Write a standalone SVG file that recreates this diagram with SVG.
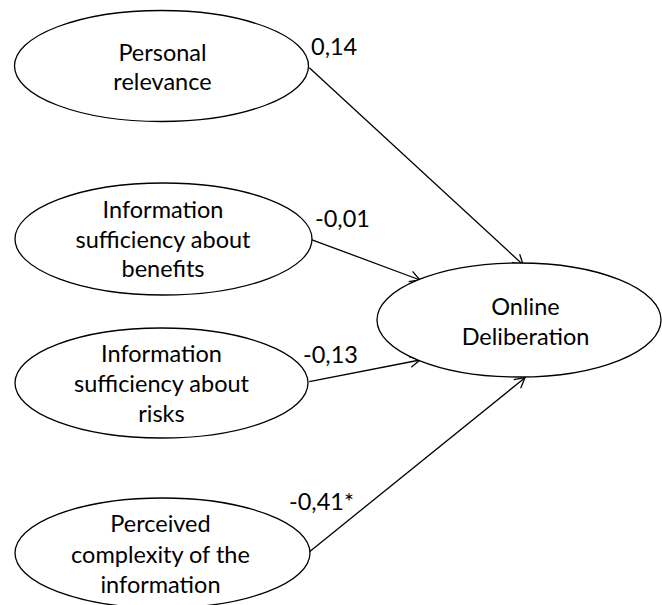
<svg xmlns="http://www.w3.org/2000/svg" width="662" height="605" viewBox="0 0 662 605">
<defs>
<style>
.node ellipse{fill:#fff;stroke:#000;stroke-width:1.3}
text{font-family:Lato,"Liberation Sans",sans-serif;font-size:23.5px;fill:#000}
.c{text-anchor:middle}
.conn line{stroke:#000;stroke-width:1.3;fill:none}
</style>
<marker id="arr" markerUnits="userSpaceOnUse" markerWidth="14" markerHeight="14" viewBox="0 0 14 14" refX="12" refY="7" orient="auto">
<path d="M2,1.5 L12,7 L2,12.5" fill="none" stroke="#000" stroke-width="1.3"/>
</marker>
</defs>
<rect width="662" height="605" fill="#fff"/>
<g id="connectors" class="conn">
<line x1="309.3" y1="67.7" x2="523.3" y2="265" marker-end="url(#arr)"/>
<line x1="310.7" y1="239.3" x2="420" y2="280" marker-end="url(#arr)"/>
<line x1="309.3" y1="381.7" x2="420" y2="360" marker-end="url(#arr)"/>
<line x1="308.3" y1="552.7" x2="525" y2="377.7" marker-end="url(#arr)"/>
<text x="311" y="55">0,14</text>
<text x="315" y="227">-0,01</text>
<text x="303" y="363">-0,13</text>
<text x="289" y="510">-0,41*</text>
</g>
<g id="personal-relevance" class="node">
<ellipse cx="161.5" cy="66" rx="147" ry="55.5"/>
<text class="c" x="162.5" y="61">Personal</text>
<text class="c" x="162.5" y="90">relevance</text>
</g>
<g id="info-benefits" class="node">
<ellipse cx="163.5" cy="239" rx="148.5" ry="56"/>
<text class="c" x="163" y="218">Information</text>
<text class="c" x="163" y="248">sufficiency about</text>
<text class="c" x="163" y="277">benefits</text>
</g>
<g id="info-risks" class="node">
<ellipse cx="161.5" cy="383" rx="146.5" ry="55"/>
<text class="c" x="161.5" y="362">Information</text>
<text class="c" x="161.5" y="392">sufficiency about</text>
<text class="c" x="161.5" y="422">risks</text>
</g>
<g id="perceived-complexity" class="node">
<ellipse cx="162.5" cy="553" rx="147.5" ry="55"/>
<text class="c" x="160.5" y="532">Perceived</text>
<text class="c" x="160.5" y="563">complexity of the</text>
<text class="c" x="160.5" y="593">information</text>
</g>
<g id="online-deliberation" class="node">
<ellipse cx="519" cy="320" rx="142" ry="57"/>
<text class="c" x="525.5" y="315">Online</text>
<text class="c" x="525.5" y="345">Deliberation</text>
</g>
</svg>
